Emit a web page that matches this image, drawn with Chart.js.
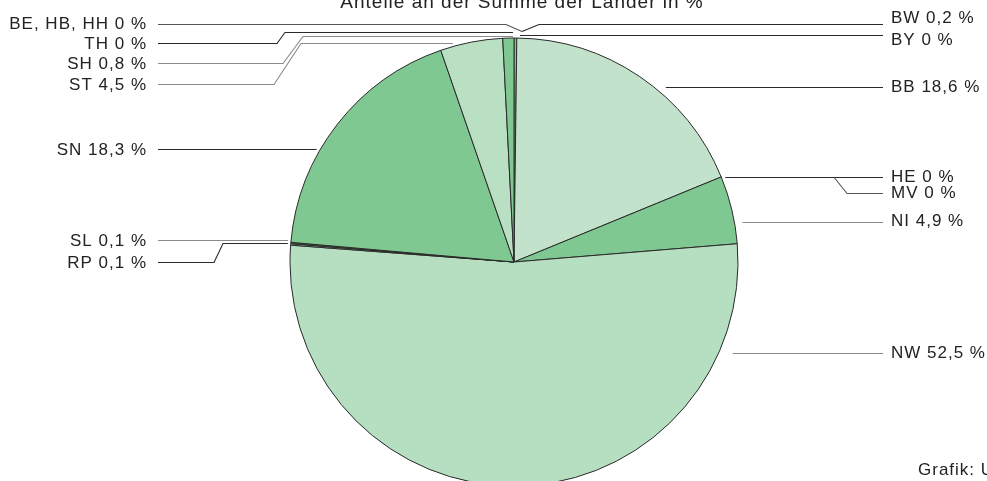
<!DOCTYPE html>
<html><head><meta charset="utf-8">
<script src="https://cdn.jsdelivr.net/npm/chart.js@4.4.1/dist/chart.umd.min.js"></script>
<style>html,body{margin:0;padding:0;background:#fff;overflow:hidden}canvas{display:block}</style>
</head><body>
<canvas id="c" width="987" height="481"></canvas>
<script>
// ---- data ----
const chartTitle = 'Anteile an der Summe der Länder in %';
const credit = 'Grafik: UBA';
const categories = ['BW','BY','BB','HE','MV','NI','NW','RP','SL','SN','ST','SH','TH','BE, HB, HH'];
const shares = [0.2, 0, 18.6, 0, 0, 4.9, 52.5, 0.1, 0.1, 18.3, 4.5, 0.8, 0, 0];
const sliceColors = ['#7fc790','#7fc790','#c3e2cb','#7fc790','#7fc790','#80c891','#b6dfc1',
                     '#b6dfc1','#3b7a48','#80c891','#bae0c4','#80c891','#80c891','#80c891'];

// ---- label / leader layout (annotation positions only) ----
const DARK = '#2a2a2a', GRAY = '#8a8a8a';
const leaderLayout = {
  'BE, HB, HH': {side:'L', textY:24,  lineY:24,  bends:[[506,24]],            end:{y:31,  edge:'R', dx:8},   color:'#555'},
  'TH':         {side:'L', textY:44,  lineY:43,  bends:[[277,43],[285,32]],   end:{y:32,  edge:'L', dx:-1},  color:DARK},
  'SH':         {side:'L', textY:64,  lineY:63,  bends:[[283,63],[303,36]],   end:{y:36,  edge:'L', dx:-1},  color:GRAY},
  'ST':         {side:'L', textY:85,  lineY:84,  bends:[[274,84],[301,43]],   end:{y:43,  edge:'L', dx:-14}, color:GRAY},
  'SN':         {side:'L', textY:150, lineY:149, bends:[],                    end:{y:149, edge:'L', dx:-4},  color:DARK},
  'SL':         {side:'L', textY:241, lineY:240, bends:[],                    end:{y:240, edge:'L', dx:-3},  color:GRAY},
  'RP':         {side:'L', textY:263, lineY:262, bends:[[214,262],[223,243]], end:{y:243, edge:'L', dx:-3},  color:DARK},
  'BW':         {side:'R', textY:18,  lineY:24,  bends:[[539,24]],            end:{y:31,  edge:'R', dx:8},   color:DARK},
  'BY':         {side:'R', textY:40,  lineY:35,  bends:[],                    end:{y:35,  edge:'R', dx:6},   color:DARK},
  'BB':         {side:'R', textY:87,  lineY:87,  bends:[],                    end:{y:87,  edge:'R', dx:12},  color:DARK},
  'HE':         {side:'R', textY:177, lineY:177, bends:[],                    end:{y:177, edge:'R', dx:4},   color:DARK},
  'MV':         {side:'R', textY:193, lineY:193, bends:[[847,193]],           end:{y:177, edge:'R', dx:113}, color:'#555'},
  'NI':         {side:'R', textY:221, lineY:222, bends:[],                    end:{y:222, edge:'R', dx:8},   color:GRAY},
  'NW':         {side:'R', textY:353, lineY:353, bends:[],                    end:{y:353, edge:'R', dx:14},  color:GRAY}
};
const LEFT_TEXT_X = 147, LEFT_LINE_X = 158, RIGHT_LINE_X = 883, RIGHT_TEXT_X = 891;
const FONT = '17px "Liberation Sans", Arial, Helvetica, sans-serif';

const fmt = v => String(v).replace('.', ',');

const leaderPlugin = {
  id: 'leaders',
  afterDraw(chart) {
    const ctx = chart.ctx;
    const meta = chart.getDatasetMeta(0);
    const a0 = meta.data[0];
    const cx = a0.x, cy = a0.y, r = a0.outerRadius;
    const edgeX = (y, edge) => {
      const dy = y - cy;
      if (Math.abs(dy) >= r) return cx;
      const w = Math.sqrt(r * r - dy * dy);
      return edge === 'L' ? cx - w : cx + w;
    };
    ctx.save();
    // title
    ctx.font = '19px "Liberation Sans", Arial, Helvetica, sans-serif';
    ctx.letterSpacing = '1px';
    ctx.fillStyle = '#222';
    ctx.textAlign = 'center';
    ctx.textBaseline = 'alphabetic';
    ctx.fillText(chartTitle, 522, 8);

    ctx.font = FONT;
    ctx.textBaseline = 'middle';
    categories.forEach((cat, i) => {
      const L = leaderLayout[cat];
      if (!L) return;
      const sx = L.side === 'L' ? LEFT_LINE_X : RIGHT_LINE_X;
      ctx.beginPath();
      ctx.moveTo(sx, L.lineY + 0.5);
      L.bends.forEach(p => ctx.lineTo(p[0], p[1] + 0.5));
      ctx.lineTo(edgeX(L.end.y, L.end.edge) + L.end.dx, L.end.y + 0.5);
      ctx.strokeStyle = L.color;
      ctx.lineWidth = 1.1;
      ctx.stroke();
      ctx.fillStyle = '#222';
      const txt = cat + ' ' + fmt(shares[i]) + ' %';
      if (L.side === 'L') { ctx.textAlign = 'right'; ctx.fillText(txt, LEFT_TEXT_X, L.textY); }
      else { ctx.textAlign = 'left'; ctx.fillText(txt, RIGHT_TEXT_X, L.textY); }
    });
    // credit
    ctx.textAlign = 'left';
    ctx.fillText(credit, 918, 470);
    ctx.restore();
  }
};

new Chart(document.getElementById('c'), {
  type: 'pie',
  data: {
    labels: categories,
    datasets: [{
      data: shares,
      backgroundColor: sliceColors,
      borderColor: '#2a2a2a',
      borderWidth: 1,
      radius: 224,
      clip: false
    }]
  },
  options: {
    responsive: false,
    animation: false,
    layout: { padding: { top: 43, left: 290, right: 249, bottom: 0 } },
    plugins: { legend: { display: false }, tooltip: { enabled: false }, title: { display: false } }
  },
  plugins: [leaderPlugin]
});
</script>
</body></html>
